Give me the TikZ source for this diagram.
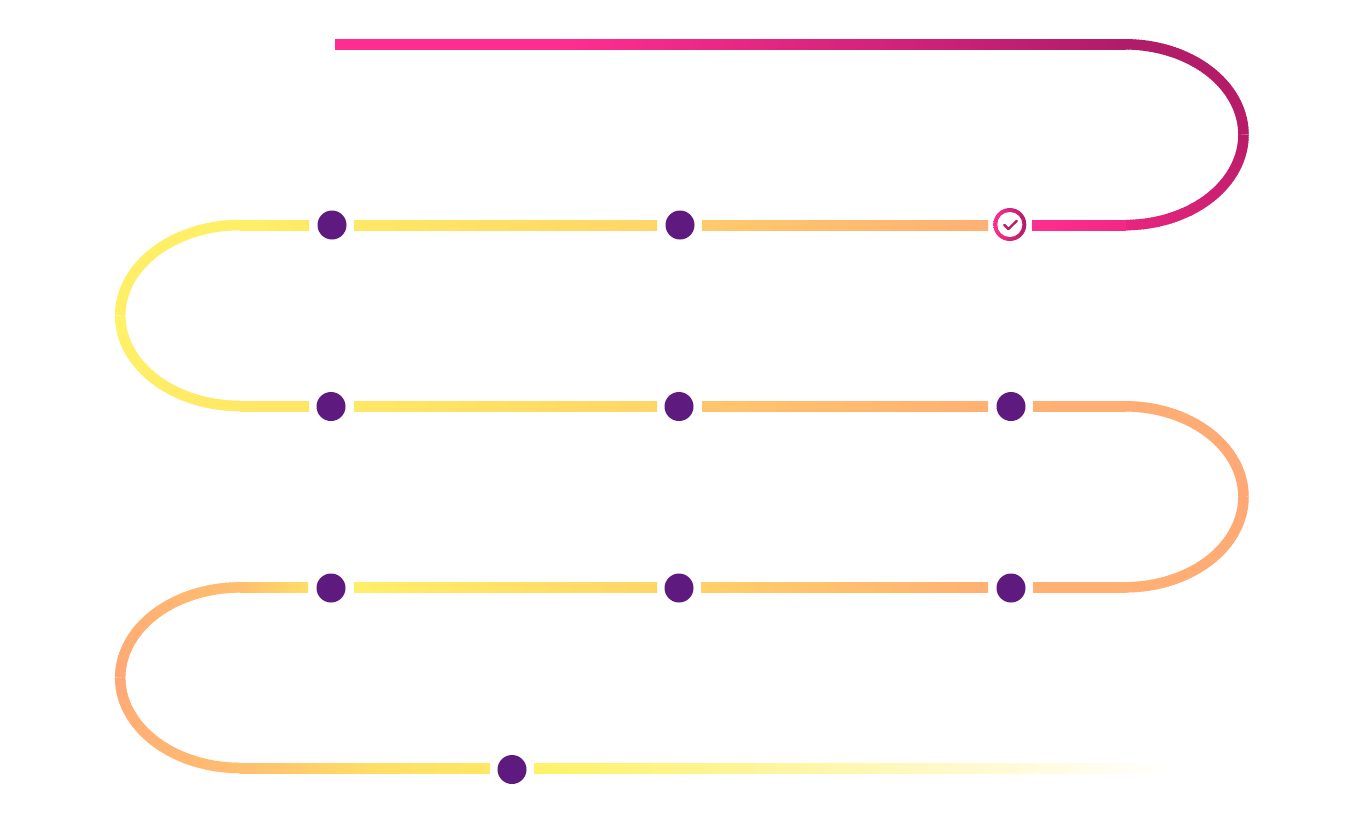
\documentclass[tikz,border=0pt]{standalone}
\usetikzlibrary{calc}
\definecolor{pinkA}{HTML}{FF2E8E}
\definecolor{pinkB}{HTML}{F22885}
\definecolor{pinkC}{HTML}{B01C68}
\definecolor{pinkD}{HTML}{B81C68}
\definecolor{pinkE}{HTML}{E8257F}
\definecolor{yelA}{HTML}{FFF268}
\definecolor{yelB}{HTML}{FFE865}
\definecolor{yelC}{HTML}{FFDE66}
\definecolor{yelD}{HTML}{FFD567}
\definecolor{ornA}{HTML}{FFBE70}
\definecolor{ornB}{HTML}{FFB073}
\definecolor{ornC}{HTML}{FFA876}
\definecolor{paleY}{HTML}{FEF6A8}
\definecolor{dotc}{HTML}{5E1A7E}
\tikzset{
  ribbon/.style={line width=10.5pt,line cap=butt,line join=round},
  stopdot/.style={circle,fill=dotc,minimum size=29pt,inner sep=0pt,draw=none},
  ringdot/.style={circle,minimum size=33pt,inner sep=0pt,left color=pinkA,right color=pinkC,draw=none},
  ringhole/.style={circle,minimum size=25pt,inner sep=0pt,fill=white,draw=none},
  tick/.style={line width=2.4pt,line cap=round,line join=round,pinkD}
}
% band between two named coordinates, shaded left to right
\newcommand{\band}[4]{\path[left color=#3,right color=#4]
  ([yshift=5pt]#1) rectangle ([yshift=-5pt]#2);}
% elliptical arc in many short pieces: cx cy rx ry t0 t1 colA colB
\newcommand{\gradarc}[8]{%
  \foreach \i in {1,...,60}{%
    \pgfmathsetmacro\ta{#5+(#6-#5)*(\i-1)/60}%
    \pgfmathsetmacro\tb{#5+(#6-#5)*min(\i+0.35,60)/60}%
    \pgfmathsetmacro\pc{100*(\i-0.5)/60}%
    \colorlet{segc}{#8!\pc!#7}%
    \draw[ribbon,segc] ({#1+#3*cos(\ta)},{#2+#4*sin(\ta)}) -- ({#1+#3*cos(\tb)},{#2+#4*sin(\tb)});
  }}
\begin{document}
\begin{tikzpicture}[x=1pt,y=-1pt]
\useasboundingbox (0,0) rectangle (1366,812);
\fill[white] (0,0) rectangle (1366,812);

% row 1
\coordinate (r1a) at (335,44.3);
\coordinate (r1b) at (560,44.3);
\coordinate (r1c) at (1126,44.3);
\band{r1a}{r1b}{pinkA}{pinkA}
\band{r1b}{r1c}{pinkA}{pinkC}
% arcs right top
\gradarc{1125}{134.7}{118.5}{90.4}{-90}{0}{pinkC}{pinkD}
\gradarc{1125}{134.7}{118.5}{90.4}{0}{90}{pinkD}{pinkE}

% row 2
\coordinate (r2a) at (1032,225.5);
\coordinate (r2b) at (1126,225.5);
\band{r2a}{r2b}{pinkA}{pinkB}
\coordinate (r2c) at (702,225.5);
\coordinate (r2d) at (988,225.5);
\band{r2c}{r2d}{ornA!50!yelD}{ornB}
\coordinate (r2e) at (354,225.5);
\coordinate (r2f) at (657,225.5);
\band{r2e}{r2f}{yelB}{yelD}
\coordinate (r2g) at (255,225.5);
\coordinate (r2h) at (309,225.5);
\band{r2g}{r2h}{yelA!70!yelB}{yelB}
\gradarc{240}{315.5}{119.8}{90.5}{-90}{-180}{yelA!70!yelB}{yelA}
\gradarc{240}{315.5}{119.8}{90.5}{180}{90}{yelA}{yelB}
\path[fill=yelA!70!yelB] (239.5,220) rectangle (256,230.5);

% row 3
\coordinate (r3a) at (239.5,406.3);
\coordinate (r3b) at (309,406.3);
\band{r3a}{r3b}{yelB}{yelB!80!yelC}
\coordinate (r3c) at (354,406.3);
\coordinate (r3d) at (657,406.3);
\band{r3c}{r3d}{yelB}{yelD}
\coordinate (r3e) at (702,406.3);
\coordinate (r3f) at (988,406.3);
\band{r3e}{r3f}{ornA!70!yelD}{ornB}
\coordinate (r3g) at (1033,406.3);
\coordinate (r3h) at (1126,406.3);
\band{r3g}{r3h}{ornB}{ornB!70!ornC}
\gradarc{1125}{496.8}{118.5}{90.5}{-90}{0}{ornB!70!ornC}{ornC}
\gradarc{1125}{496.8}{118.5}{90.5}{0}{90}{ornC}{ornB}

% row 4
\coordinate (r4a) at (1033,587.5);
\coordinate (r4b) at (1126,587.5);
\band{r4a}{r4b}{ornB!90!ornA}{ornB}
\coordinate (r4c) at (701,587.5);
\coordinate (r4d) at (988,587.5);
\band{r4c}{r4d}{yelD!75!ornA}{ornB}
\coordinate (r4e) at (354,587.5);
\coordinate (r4f) at (657,587.5);
\band{r4e}{r4f}{yelA!70!yelB}{yelD}
\coordinate (r4g) at (239.5,587.5);
\coordinate (r4h) at (308,587.5);
\band{r4g}{r4h}{ornA}{yelC}
\gradarc{240}{677.7}{119.8}{90.3}{-90}{-180}{ornA}{ornC}
\gradarc{240}{677.7}{119.8}{90.3}{180}{90}{ornC}{ornA}

% row 5
\coordinate (r5a) at (239.5,768);
\coordinate (r5m) at (370,768);
\coordinate (r5b) at (490,768);
\band{r5a}{r5m}{ornA}{yelC}
\band{r5m}{r5b}{yelC}{yelB}
\coordinate (r5c) at (534,768);
\coordinate (r5d) at (810,768);
\coordinate (r5e) at (1170,768);
\band{r5c}{r5d}{yelA}{paleY}
\band{r5d}{r5e}{paleY}{white}

% stops
\node[stopdot] (s1) at (332,225) {};
\node[stopdot] (s2) at (680,225) {};
\node[stopdot] (s3) at (331,406.5) {};
\node[stopdot] (s4) at (679,406.5) {};
\node[stopdot] (s5) at (1011,406.5) {};
\node[stopdot] (s6) at (331,588) {};
\node[stopdot] (s7) at (679,588) {};
\node[stopdot] (s8) at (1011,588) {};
\node[stopdot] (s9) at (512,769.5) {};

% current stop
\node[ringdot] (cur) at (1009.8,224.5) {};
\node[ringhole] (hole) at (cur) {};
\coordinate (c1) at (1004.3,225);
\coordinate (c2) at (1008.4,229);
\coordinate (c3) at (1016.8,220.8);
\draw[tick] (c1) -- (c2) -- (c3);
\end{tikzpicture}
\end{document}
